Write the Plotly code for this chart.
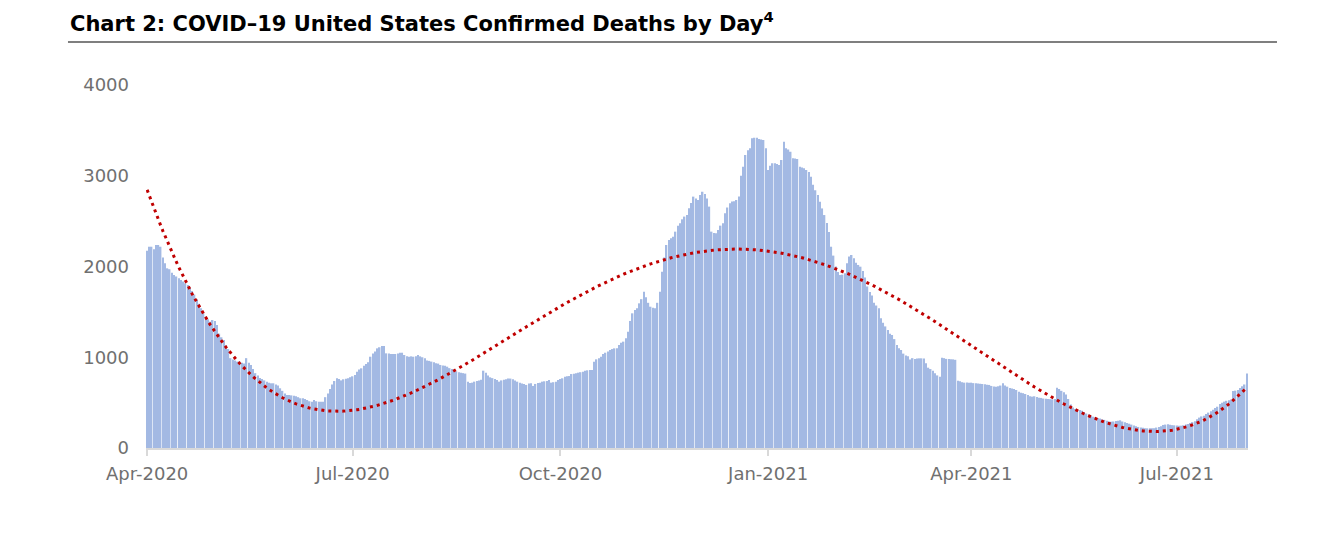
import numpy as np
import pandas as pd
import plotly.graph_objects as go

start_date = "2020-04-01"
daily_deaths = [
    2174, 2218, 2218, 2189, 2237, 2237, 2218,
    2100, 2035, 1980, 1970, 1930, 1906, 1890,
    1870, 1851, 1835, 1815, 1796, 1765, 1730,
    1690, 1640, 1590, 1540, 1484, 1450, 1420,
    1392, 1410, 1400, 1355, 1260, 1220, 1190,
    1130, 1090, 990, 975, 965, 952, 952,
    940, 930, 990, 940, 915, 870, 825,
    800, 770, 760, 745, 731, 720, 713,
    713, 700, 690, 658, 630, 600, 584,
    584, 580, 577, 570, 560, 548, 548,
    540, 529, 515, 511, 529, 515, 511,
    511, 511, 560, 600, 650, 700, 738,
    768, 760, 745, 757, 762, 768, 780,
    790, 804, 840, 865, 878, 905, 925,
    945, 1006, 1040, 1062, 1098, 1110, 1124,
    1124, 1043, 1040, 1036, 1036, 1036, 1040,
    1050, 1050, 1025, 1010, 1006, 1010, 1006,
    1010, 1025, 1010, 1000, 988, 965, 960,
    952, 945, 935, 930, 915, 910, 905,
    896, 880, 870, 860, 845, 835, 830,
    825, 820, 731, 715, 720, 731, 738,
    745, 752, 852, 830, 800, 779, 770,
    760, 748, 731, 745, 752, 757, 766,
    765, 757, 745, 731, 720, 710, 706,
    695, 710, 713, 684, 706, 715, 720,
    731, 735, 738, 750, 720, 725, 731,
    750, 760, 768, 786, 790, 793, 815,
    818, 823, 830, 835, 841, 852, 856,
    860, 860, 951, 977, 990, 1006, 1036,
    1050, 1062, 1080, 1090, 1098, 1098, 1135,
    1160, 1172, 1208, 1282, 1400, 1484, 1520,
    1540, 1594, 1640, 1723, 1660, 1600, 1557,
    1545, 1540, 1600, 1723, 1943, 2100, 2237,
    2292, 2310, 2328, 2384, 2450, 2476, 2520,
    2550, 2567, 2641, 2700, 2770, 2750, 2733,
    2788, 2825, 2800, 2750, 2660, 2384, 2370,
    2366, 2402, 2450, 2476, 2586, 2650, 2696,
    2715, 2720, 2733, 2770, 3000, 3100, 3229,
    3280, 3302, 3412, 3420, 3420, 3404, 3400,
    3395, 3302, 3063, 3110, 3137, 3137, 3130,
    3119, 3174, 3375, 3302, 3290, 3265, 3192,
    3190, 3185, 3100, 3090, 3082, 3063, 3040,
    2990, 2900, 2840, 2788, 2714, 2640, 2567,
    2480, 2380, 2218, 2120, 2000, 1940, 1906,
    1910, 1925, 2035, 2110, 2127, 2090, 2040,
    2017, 1998, 1950, 1880, 1780, 1720, 1680,
    1600, 1570, 1540, 1430, 1380, 1340, 1300,
    1260, 1245, 1200, 1135, 1100, 1080, 1040,
    1020, 1010, 975, 990, 980, 985, 988,
    988, 985, 935, 885, 870, 850, 823,
    800, 785, 995, 990, 982, 980, 978,
    977, 972, 740, 735, 725, 720, 722,
    720, 720, 715, 713, 710, 708, 705,
    702, 698, 695, 684, 678, 676, 680,
    688, 713, 690, 676, 662, 655, 650,
    639, 620, 610, 604, 595, 584, 570,
    566, 570, 562, 555, 552, 545, 542,
    540, 538, 536, 540, 665, 650, 630,
    615, 590, 540, 480, 445, 430, 422,
    420, 410, 395, 380, 368, 355, 345,
    338, 330, 325, 316, 310, 300, 292,
    290, 292, 298, 300, 305, 292, 285,
    275, 268, 258, 248, 240, 232, 226,
    222, 218, 217, 217, 217, 218, 225,
    232, 240, 254, 258, 261, 256, 252,
    250, 248, 246, 246, 250, 258, 265,
    275, 285, 295, 316, 335, 348, 355,
    375, 390, 405, 422, 440, 455, 485,
    500, 511, 520, 526, 535, 628, 632,
    640, 660, 680, 700, 820,
]
tick_dates = ["2020-04-01", "2020-07-01", "2020-10-01", "2021-01-01", "2021-04-01", "2021-07-01"]
tick_labels = ["Apr-2020", "Jul-2020", "Oct-2020", "Jan-2021", "Apr-2021", "Jul-2021"]
y_ticks = [0, 1000, 2000, 3000, 4000]
trend_degree = 4
title_text = "Chart 2: COVID\u201319 United States Confirmed Deaths by Day<sup>4</sup>"

dates = pd.date_range(start_date, periods=len(daily_deaths), freq="D")
idx = np.arange(len(daily_deaths))
coef = np.polyfit(idx, np.array(daily_deaths, dtype=float), trend_degree)
trend = np.polyval(coef, idx)

fig = go.Figure()
fig.add_trace(go.Bar(x=dates, y=daily_deaths, marker=dict(color="#A3B9E3", line=dict(width=0)),
                     showlegend=False, hoverinfo="x+y"))
fig.add_trace(go.Scatter(x=dates, y=trend, mode="lines",
                         line=dict(color="#C00000", width=3, dash="3px,4px"),
                         showlegend=False, hoverinfo="skip"))

x_lo = pd.Timestamp(start_date) - pd.Timedelta(hours=12)
x_hi = dates[-1] + pd.Timedelta(hours=12)

fig.update_layout(
    width=1342, height=536,
    margin=dict(l=146, r=94, t=85, b=88),
    paper_bgcolor="white", plot_bgcolor="white",
    bargap=0.35,
    font=dict(family="DejaVu Sans", size=18, color="#707070"),
    xaxis=dict(type="date", range=[x_lo, x_hi], tickvals=tick_dates, ticktext=tick_labels,
               showgrid=False, zeroline=False, showline=True, linecolor="#d9d9d9", linewidth=2,
               ticks="outside", ticklen=6, tickcolor="#d9d9d9", tickwidth=2,
               ticklabelstandoff=2, tickfont=dict(size=18, color="#707070")),
    yaxis=dict(range=[0, 4000], tickvals=y_ticks, showgrid=False, zeroline=False, showline=False,
               ticks="", ticklabelstandoff=16, tickfont=dict(size=18, color="#707070")),
    shapes=[dict(type="line", xref="paper", yref="paper",
                 x0=-0.0708, x1=1.0263, y0=1.1185, y1=1.1185,
                 line=dict(color="#7f7f7f", width=2))],
    annotations=[dict(text="<b>" + title_text + "</b>", xref="paper", yref="paper",
                      x=-0.0708, y=1.1736, xanchor="left", yanchor="middle", showarrow=False,
                      font=dict(family="DejaVu Sans", size=21, color="#000000"))],
)

fig.write_html("out.html", config={"displayModeBar": False},
               post_script="document.body.style.margin='0';document.body.style.overflow='hidden';")
